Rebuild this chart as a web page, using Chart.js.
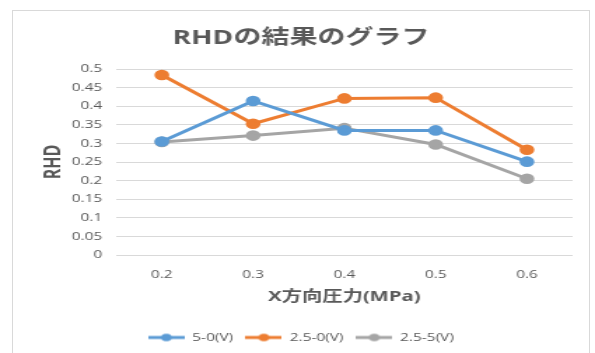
<!DOCTYPE html>
<html><head><meta charset="utf-8">
<script src="https://cdn.jsdelivr.net/npm/chart.js@4"></script>
<style>
html,body{margin:0;padding:0;background:#fff;}
#wrap{position:relative;width:595px;height:353px;overflow:hidden;}
#frame{position:absolute;left:12px;top:10px;width:578px;height:360px;border:1px solid #d9d9d9;box-sizing:border-box;}
#c{position:absolute;left:0;top:0;transform:scaleX(1.4);transform-origin:0 0;}
</style></head>
<body>
<div id="wrap"><div id="frame"></div><canvas id="c" width="425" height="353"></canvas></div>
<script>
const categories = ['0.2','0.3','0.4','0.5','0.6'];
const series1 = [0.305,0.414,0.335,0.335,0.251];
const series2 = [0.484,0.353,0.421,0.423,0.283];
const series3 = [0.304,0.321,0.341,0.297,0.205];
const seriesNames = ['5-0(V)','2.5-0(V)','2.5-5(V)'];
const colors = ['#5B9BD5','#ED7D31','#A5A5A5'];
const yMin = 0, yMax = 0.5, yStep = 0.05;

const FONT = "'Open Sans','Noto Sans CJK JP',sans-serif";
const TXT = '#595959';

function legendIcon(color){
  const cv = document.createElement('canvas');
  cv.width = 26; cv.height = 10;
  const g = cv.getContext('2d');
  g.strokeStyle = color; g.lineWidth = 3;
  g.beginPath(); g.moveTo(0,5); g.lineTo(26,5); g.stroke();
  g.fillStyle = color; g.beginPath(); g.arc(13,5,3.8,0,Math.PI*2); g.fill();
  return cv;
}
const icons = colors.map(legendIcon);

const ds = [series1,series2,series3].map((d,i)=>({
  label: seriesNames[i], data: d,
  borderColor: colors[i], backgroundColor: colors[i],
  pointBackgroundColor: colors[i], pointBorderColor: colors[i],
  borderWidth: 3, pointRadius: 3.8, pointHoverRadius: 3.8, tension: 0,
  pointStyle: 'circle'
}));

new Chart(document.getElementById('c'), {
  type: 'line',
  data: { labels: categories, datasets: ds },
  options: {
    responsive: false, animation: false,
    layout: { padding: { left: 21, right: 16, top: 10, bottom: 0 } },
    plugins: {
      title: { display: true, text: 'RHDの結果のグラフ', color: TXT,
        font: { family: FONT, size: 20, weight: 'bold' }, padding: { top: 16, bottom: 19 } },
      legend: { position: 'bottom',
        labels: { color: TXT, font: { family: FONT, size: 11 }, usePointStyle: true,
          pointStyleWidth: 26, padding: 9,
          generateLabels: (chart) => chart.data.datasets.map((d,i)=>({
            text: d.label, pointStyle: icons[i], fillStyle: colors[i], strokeStyle: colors[i],
            lineWidth: 0, hidden: false, datasetIndex: i, fontColor: TXT
          }))
        } },
      tooltip: { enabled: false }
    },
    scales: {
      x: {
        offset: true,
        grid: { display: false, drawTicks: false },
        border: { display: false },
        ticks: { color: TXT, font: { family: FONT, size: 11 }, padding: 13 },
        title: { display: true, text: 'X方向圧力(MPa)', color: TXT,
          font: { family: FONT, size: 14.5, weight: 'bold' }, padding: { top: 0, bottom: 17 } },
        afterFit: (s) => { s.height = 68; }
      },
      y: {
        min: yMin, max: yMax,
        grid: { color: '#d9d9d9', lineWidth: 1, drawTicks: false },
        border: { display: false },
        ticks: { stepSize: yStep, color: TXT, font: { family: FONT, size: 11 }, padding: 10,
          callback: (v) => String(Number(v.toFixed(2))) },
        title: { display: true, text: 'RHD', color: TXT,
          font: { family: FONT, size: 16, weight: 'bold' }, padding: { top: 7.6, bottom: 0 } },
        afterFit: (s) => { s.width = 62; }
      }
    }
  }
});
</script>
</body></html>
